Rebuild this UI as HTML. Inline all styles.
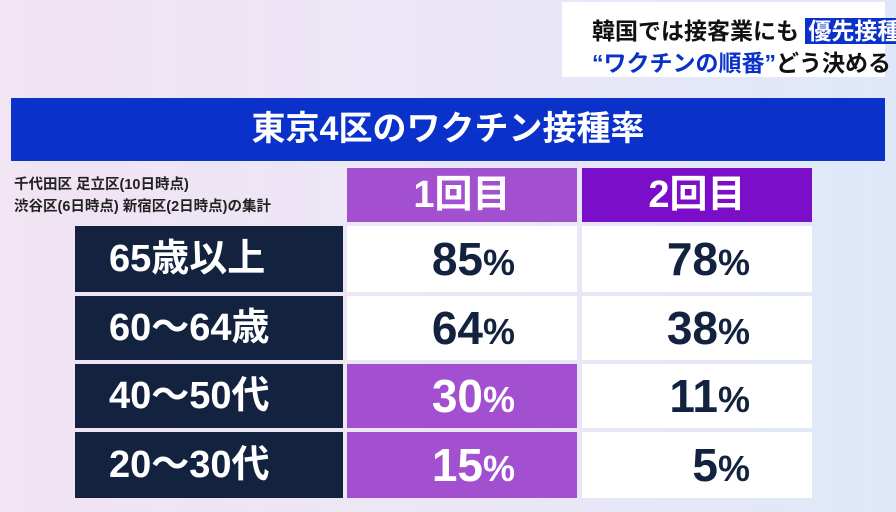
<!DOCTYPE html>
<html><head><meta charset="utf-8">
<style>
body{margin:0;width:896px;height:512px;overflow:hidden;font-family:"Liberation Sans","Noto Sans CJK JP",sans-serif;background:linear-gradient(90deg,#f1e4f3 0%,#ebe6f6 50%,#dfe8f9 100%);position:relative}
.abs{position:absolute;box-sizing:border-box}
.cap{left:562px;top:2px;width:323px;height:75px;background:#fff}
.cap div{position:absolute;left:30px;font-weight:bold;font-size:23px;white-space:nowrap;color:#111}
.title{left:11px;top:98px;width:874px;height:63px;background:#0a31c9;color:#fff;font-size:34px;font-weight:bold;text-align:center;line-height:63px}
.note{left:14px;top:174px;font-size:14.5px;font-weight:bold;color:#222;line-height:22px;white-space:nowrap}
.hdr{top:168px;height:54px;color:#fff;font-size:38px;font-weight:bold;text-align:center;line-height:54px}
.lab{left:75px;width:268px;background:#13233f;color:#fff;font-size:38px;font-weight:bold;line-height:66px;padding-left:34px;white-space:nowrap}
.val{width:230px;background:#fff;color:#13233f;font-weight:bold;font-size:46px;text-align:right;line-height:66px}
.val span{font-size:36px}
</style></head><body>
<div class="abs cap">
<div style="top:10px">韓国では接客業にも <span style="background:#0a31c9;color:#fff;padding:0 3px">優先接種</span></div>
<div style="top:42px"><span style="color:#0a31c9">“ワクチンの順番”</span>どう決める</div>
</div>
<div class="abs title">東京4区のワクチン接種率</div>
<div class="abs note">千代田区 足立区(10日時点)<br>渋谷区(6日時点) 新宿区(2日時点)の集計</div>
<div class="abs hdr" style="left:347px;width:230px;background:#a24fd0">1回目</div>
<div class="abs hdr" style="left:582px;width:230px;background:#7b0fc9">2回目</div>
<div id="rows"></div>
<script>
const categories=["65歳以上","60〜64歳","40〜50代","20〜30代"];
const dose1=[85,64,30,15];
const dose2=[78,38,11,5];
const highlight1=[false,false,true,true];
const tops=[226,296,364,432];
const root=document.getElementById('rows');
categories.forEach((c,i)=>{
  const h=(i===3?66:(i===0?66:64));
  const lab=document.createElement('div');
  lab.className='abs lab';
  lab.style.top=tops[i]+'px';lab.style.height=h+'px';lab.style.lineHeight=h+'px';
  lab.textContent=c;
  
  
  root.appendChild(lab);
  [[dose1,347,'value-dose-1'],[dose2,582,'value-dose-2']].forEach(([arr,x,nm],j)=>{
    const v=document.createElement('div');
    v.className='abs val';
    v.style.left=x+'px';v.style.top=tops[i]+'px';v.style.height=h+'px';v.style.lineHeight=h+'px';
    v.style.paddingRight='62px';
    if(j===0&&highlight1[i]){v.style.background='#a24fd0';v.style.color='#fff';}
    v.innerHTML=arr[i]+'<span>%</span>';
    
    
    root.appendChild(v);
  });
});
</script>
</body></html>
